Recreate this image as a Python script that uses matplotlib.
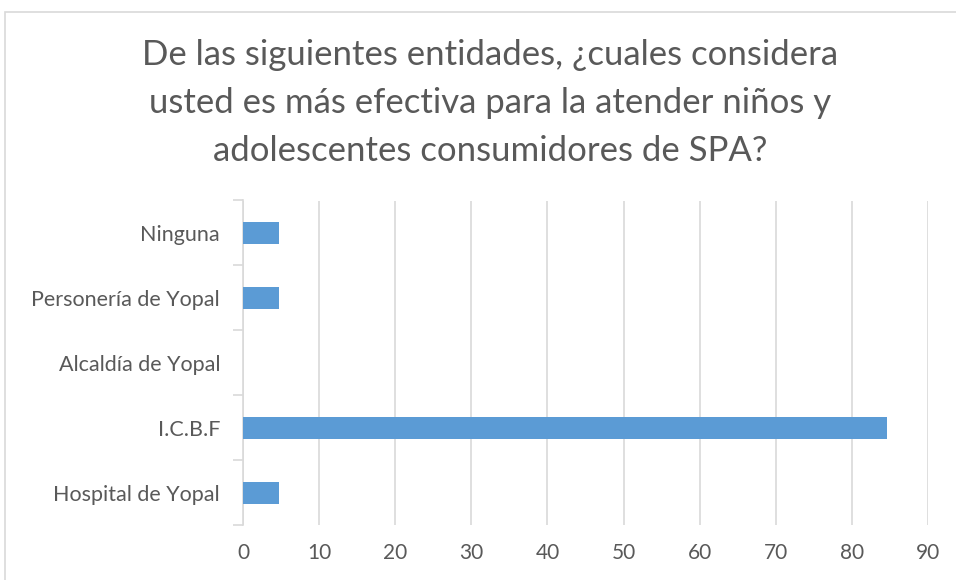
import matplotlib
matplotlib.use('Agg')
import matplotlib.pyplot as plt
from matplotlib.patches import Rectangle
from matplotlib.ticker import FixedLocator

# categories listed bottom to top, as drawn
categories = ['Hospital de Yopal', 'I.C.B.F', 'Alcaldía de Yopal',
              'Personería de Yopal', 'Ninguna']
values = [4.7, 84.6, 0, 4.7, 4.7]
x_ticks = [0, 10, 20, 30, 40, 50, 60, 70, 80, 90]
title = ('De las siguientes entidades, ¿cuales considera\n'
         'usted es más efectiva para la atender niños y\n'
         'adolescentes consumidores de SPA?')

plt.rcParams['font.family'] = ['Lato', 'DejaVu Sans']

grey = '#d9d9d9'
text_col = '#595959'

fig = plt.figure(figsize=(9.56, 5.8), dpi=100)
fig.patch.set_facecolor('white')

# chart frame (cropped at right and bottom in the original)
fig.patches.append(Rectangle((5 / 956, -0.1), 1.2, 1 - 12 / 580 + 0.1,
                             transform=fig.transFigure, fill=False,
                             edgecolor=grey, linewidth=1.2))

ax = fig.add_axes([243 / 956, 1 - 525 / 580, 685 / 956, 324.5 / 580])
y = list(range(len(categories)))
ax.barh(y, values, height=0.34, color='#5b9bd5', zorder=3)

ax.set_xlim(0, 90)
ax.set_ylim(-0.5, len(categories) - 0.5)
ax.set_xticks(x_ticks)
ax.set_yticks(y)
ax.set_yticklabels(categories)
ax.yaxis.set_minor_locator(FixedLocator([i - 0.5 for i in range(len(categories) + 1)]))

ax.grid(axis='x', color=grey, linewidth=1.2, zorder=0)
for s in ['top', 'right', 'bottom']:
    ax.spines[s].set_visible(False)
ax.spines['left'].set_color(grey)
ax.spines['left'].set_linewidth(1.2)

ax.tick_params(axis='x', length=0, labelsize=15, labelcolor=text_col, pad=13)
ax.tick_params(axis='y', which='major', length=0, labelsize=15.5,
               labelcolor=text_col, pad=16.5)
ax.tick_params(axis='y', which='minor', length=7, width=1.2, color=grey)

fig.text(0.513, 1 - 103 / 580, title, ha='center', va='center',
         fontsize=25, color=text_col, linespacing=1.6)

fig.savefig('out.png', dpi=100)
